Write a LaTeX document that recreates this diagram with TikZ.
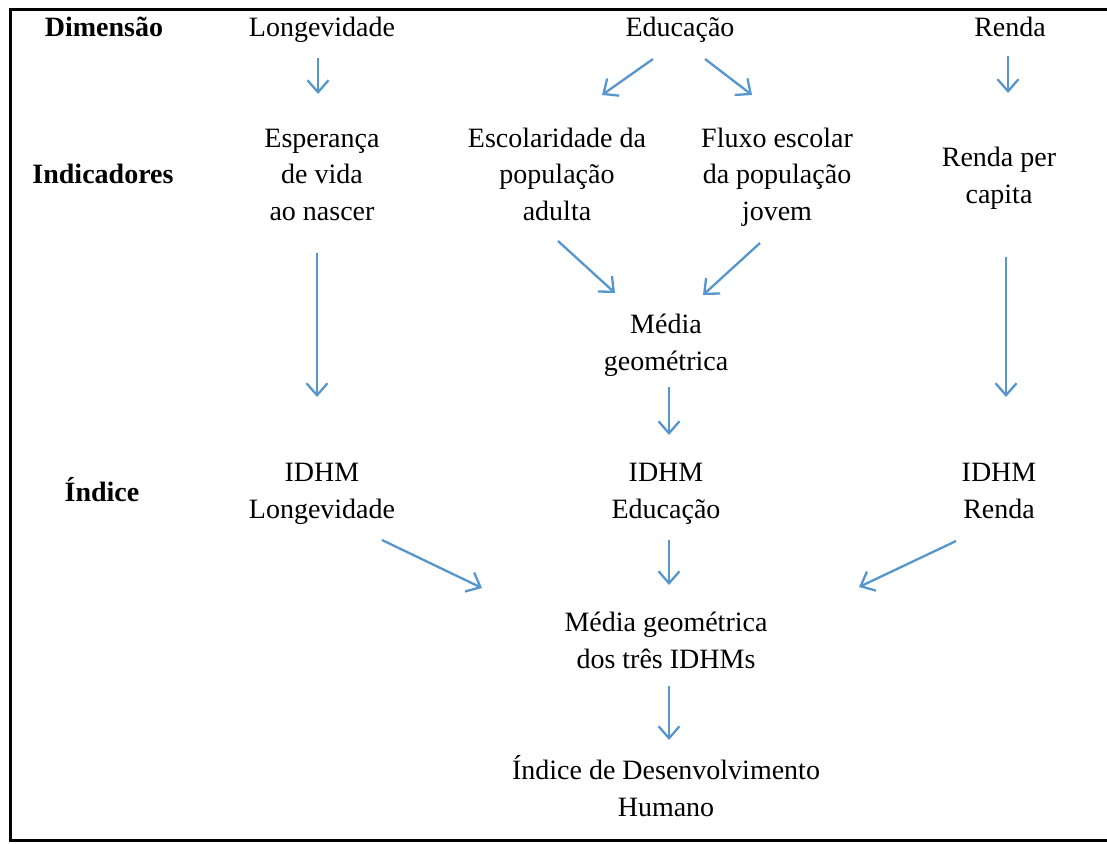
\documentclass[tikz,border=0pt]{standalone}
\usepackage{fontspec}
\setmainfont{Liberation Serif}
\usetikzlibrary{arrows.meta}
\definecolor{arrblue}{RGB}{86,150,204}
\begin{document}
\begin{tikzpicture}[x=1pt,y=-1pt,
  lbl/.style={inner sep=0pt,anchor=base,align=center,font=\fontsize{28}{36.5}\selectfont},
  hdr/.style={lbl,font=\fontsize{28}{36.5}\selectfont\bfseries},
  arr/.style={draw=arrblue,line width=2.3pt,-{Straight Barb[length=12pt,width=21pt]}}]
\useasboundingbox (0,0) rectangle (1107,843);
\draw[line width=3pt,black] (10.5,10) rectangle (1130,840.5);
% headers
\node[hdr] (dim) at (104,37) {Dimensão};
\node[hdr] (ind) at (103,183) {Indicadores};
\node[hdr] (indi) at (102,501) {Índice};
% dimension row
\node[lbl] (lon) at (322,37) {Longevidade};
\node[lbl] (edu) at (680,37) {Educação};
\node[lbl] (ren) at (1010,37) {Renda};
% indicators (base = last line)
\node[lbl] (esp) at (322,220) {Esperança\\de vida\\ao nascer};
\node[lbl] (esc) at (557,220) {Escolaridade da\\população\\adulta};
\node[lbl] (flu) at (777,220) {Fluxo escolar\\da população\\jovem};
\node[lbl] (rpc) at (999,203) {Renda per\\capita};
\node[lbl] (mg) at (666,370) {Média\\geométrica};
% indices
\node[lbl] (il) at (322,518) {IDHM\\Longevidade};
\node[lbl] (ie) at (666,518) {IDHM\\Educação};
\node[lbl] (ir) at (999,518) {IDHM\\Renda};
\node[lbl] (mg3) at (666,668) {Média geométrica\\dos três IDHMs};
\node[lbl] (idh) at (666,816) {Índice de Desenvolvimento\\Humano};
% connectors
\draw[arr] ([shift={(-4,21)}]lon.base) -- ([shift={(-4,-126)}]esp.base);
\draw[arr] ([shift={(-27,22)}]edu.base) -- ([shift={(45,-125)}]esc.base);
\draw[arr] ([shift={(25,22)}]edu.base) -- ([shift={(-25,-125)}]flu.base);
\draw[arr] ([shift={(-2,19)}]ren.base) -- ([shift={(9,-110)}]rpc.base);
\draw[arr] ([shift={(-5,33)}]esp.base) -- ([shift={(-5,-121)}]il.base);
\draw[arr] ([shift={(1,21)}]esc.base) -- ([shift={(-51,-77)}]mg.base);
\draw[arr] ([shift={(-17,23)}]flu.base) -- ([shift={(37,-75)}]mg.base);
\draw[arr] ([shift={(7,54)}]rpc.base) -- ([shift={(7,-121)}]ir.base);
\draw[arr] ([shift={(3,17)}]mg.base) -- ([shift={(3,-83)}]ie.base);
\draw[arr] ([shift={(60,22)}]il.base) -- ([shift={(-184,-80)}]mg3.base);
\draw[arr] ([shift={(3,22)}]ie.base) -- ([shift={(3,-83)}]mg3.base);
\draw[arr] ([shift={(-43,23)}]ir.base) -- ([shift={(193,-81)}]mg3.base);
\draw[arr] ([shift={(3,18)}]mg3.base) -- ([shift={(3,-76)}]idh.base);
\end{tikzpicture}
\end{document}
